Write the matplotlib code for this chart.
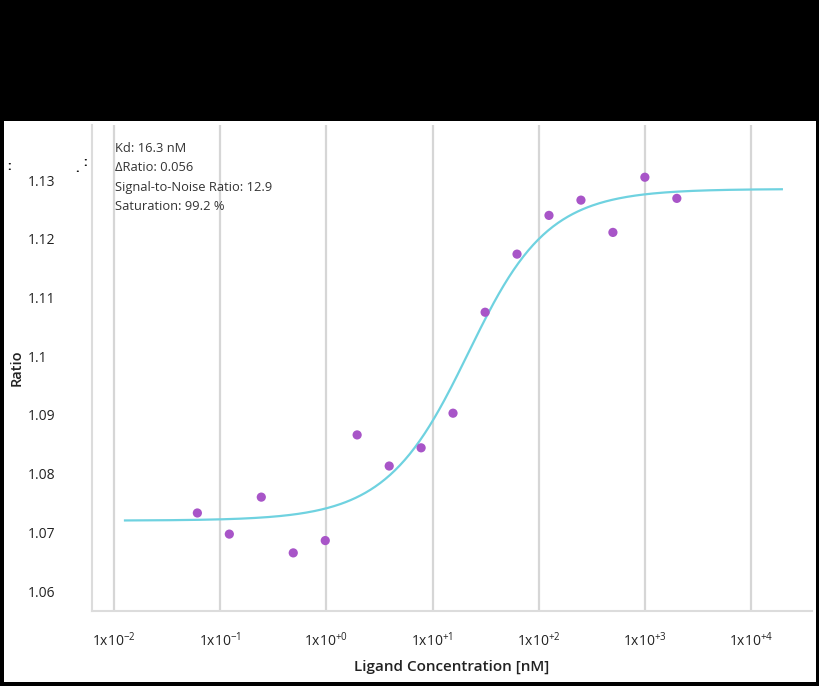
import numpy as np
import matplotlib.pyplot as plt
from matplotlib.patches import Rectangle

plt.rcParams['font.family'] = ['Open Sans', 'DejaVu Sans']
plt.rcParams['mathtext.default'] = 'regular'

# ligand dilution series [nM] and measured ratio
conc = [0.061, 0.122, 0.244, 0.488, 0.977, 1.95, 3.91, 7.81,
        15.6, 31.3, 62.5, 125, 250, 500, 1000, 2000]
ratio = [1.0733, 1.0697, 1.0760, 1.0665, 1.0686, 1.0866, 1.0813, 1.0844,
         1.0903, 1.1075, 1.1174, 1.1240, 1.1266, 1.1211, 1.1305, 1.1269]

# fit parameters
kd = 16.3
target = 10.0
unbound = 1.0720
bound = 1.1285
fit_range = (0.0127, 19500)

xticks = [1e-2, 1e-1, 1e0, 1e1, 1e2, 1e3, 1e4]
xlabels = [r'1x10$^{-2}$', r'1x10$^{-1}$', r'1x10$^{+0}$', r'1x10$^{+1}$',
           r'1x10$^{+2}$', r'1x10$^{+3}$', r'1x10$^{+4}$']
yticks = [1.06, 1.07, 1.08, 1.09, 1.10, 1.11, 1.12, 1.13]
ylabels = ['1.06', '1.07', '1.08', '1.09', '1.1', '1.11', '1.12', '1.13']

info = ['Kd: 16.3 nM', '\u0394Ratio: 0.056',
        'Signal-to-Noise Ratio: 12.9', 'Saturation: 99.2 %']


def fraction_bound(c):
    s = c + target + kd
    return (s - np.sqrt(s**2 - 4*c*target)) / (2*target)


W, H = 820, 686
fig = plt.figure(figsize=(W/100, H/100), dpi=100, facecolor='black')
fig.patches.append(Rectangle((4/W, 4/H), 812/W, 561/H, transform=fig.transFigure,
                             facecolor='white', edgecolor='none', zorder=-5))

ax = fig.add_axes([92/W, 1 - 611/H, 720/W, 486/H])
ax.set_facecolor('white')

xfit = np.logspace(np.log10(fit_range[0]), np.log10(fit_range[1]), 400)
yfit = unbound + (bound - unbound)*fraction_bound(xfit)
ax.plot(xfit, yfit, color='#6fd2e0', lw=1.6, zorder=3)
ax.scatter(conc, ratio, s=44, color='#a855c8', edgecolor='none', zorder=4)

ax.set_xscale('log')
ax.set_xlim(10**-2.207, 10**4.574)
ax.set_ylim(1.0566, 1.1394)
ax.set_xticks(xticks)
ax.set_xticklabels(xlabels)
ax.minorticks_off()
ax.set_yticks(yticks)
ax.set_yticklabels(ylabels)
for lab in ax.get_yticklabels():
    lab.set_horizontalalignment('left')

ax.tick_params(axis='x', length=0, pad=15, labelsize=10, labelcolor='#222222')
ax.tick_params(axis='y', length=0, pad=46, labelsize=10, labelcolor='#222222')
ax.grid(axis='x', color='#d6d6d6', lw=1.6)
ax.set_axisbelow(True)
for side in ['top', 'right']:
    ax.spines[side].set_visible(False)
for side in ['left', 'bottom']:
    ax.spines[side].set_color('#dcdcdc')
    ax.spines[side].set_linewidth(1.5)

ax.set_xlabel('Ligand Concentration [nM]', fontsize=11, fontweight='semibold',
              color='#222222', labelpad=7)
fig.text(17/W, 1 - 368/H, 'Ratio', rotation=90, fontsize=10.5, fontweight='semibold',
         color='#222222', ha='center', va='center')

for i, line in enumerate(info):
    fig.text(115/W, 1 - (148 + 19.5*i)/H, line, fontsize=9.3, color='#333333',
             ha='left', va='center')

# scanning specks
fig.text(9/W, 1 - 166/H, ':', fontsize=9, fontweight='bold', color='black',
         ha='center', va='center')
fig.text(85/W, 1 - 162/H, ':', fontsize=9, fontweight='bold', color='black',
         ha='center', va='center')
fig.text(77/W, 1 - 168/H, '.', fontsize=9, fontweight='bold', color='black',
         ha='center', va='center')

fig.savefig('out.png', dpi=100, facecolor='black')
